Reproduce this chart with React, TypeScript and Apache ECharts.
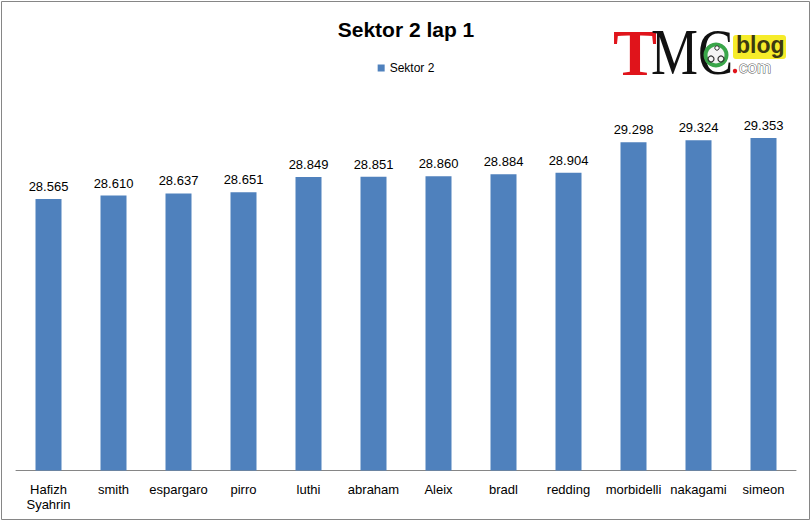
import React, { useEffect, useRef } from "react";
import * as echarts from "echarts";

const categories = ["Hafizh\nSyahrin", "smith", "espargaro", "pirro", "luthi", "abraham", "Aleix", "bradl", "redding", "morbidelli", "nakagami", "simeon"];
const sektor2 = [28.565, 28.61, 28.637, 28.651, 28.849, 28.851, 28.86, 28.884, 28.904, 29.298, 29.324, 29.353];
const seriesName = "Sektor 2";
const titleText = "Sektor 2 lap 1";

const FONT = "'Liberation Sans Narrow', 'Liberation Sans', Arial, sans-serif";

export default function App() {
  const ref = useRef<HTMLDivElement>(null);
  useEffect(() => {
    if (!ref.current) return;
    const chart = echarts.init(ref.current, null, { renderer: "svg" });
    chart.setOption({
      animation: false,
      backgroundColor: "#ffffff",
      title: {
        text: titleText,
        left: "center",
        top: 14,
        textStyle: { fontFamily: FONT, fontSize: 21, fontWeight: "bold", color: "#000" },
      },
      legend: {
        data: [seriesName],
        top: 57,
        left: "center",
        icon: "rect",
        itemWidth: 7,
        itemHeight: 7,
        textStyle: { fontFamily: FONT, fontSize: 12, color: "#000" },
      },
      grid: { left: 16, right: 16, top: 84, bottom: 51.5 },
      xAxis: {
        type: "category",
        data: categories,
        axisLine: { lineStyle: { color: "#868686", width: 1 } },
        axisTick: { show: false },
        axisLabel: {
          interval: 0,
          margin: 11,
          fontFamily: FONT,
          fontSize: 13,
          lineHeight: 15,
          color: "#000",
        },
      },
      yAxis: {
        type: "value",
        min: 25.06,
        max: 30.05,
        show: false,
        splitLine: { show: false },
      },
      series: [
        {
          name: seriesName,
          type: "bar",
          data: sektor2,
          barWidth: "40%",
          itemStyle: { color: "#4F81BD" },
          label: {
            show: true,
            position: "top",
            distance: 6,
            formatter: (p: any) => p.value.toFixed(3),
            fontFamily: FONT,
            fontSize: 13,
            color: "#000",
          },
        },
      ],
      graphic: [
        {
          type: "rect",
          shape: { x: 1.5, y: 1.5, width: 808, height: 518 },
          style: { fill: "none", stroke: "#868686", lineWidth: 1 },
          silent: true,
        },
        {
          type: "group",
          children: [
            {
              type: "text",
              x: 613,
              y: 19,
              style: { text: "T", fontFamily: "'Liberation Serif', serif", fontSize: 66, fontWeight: "bold", fill: "#e0141b" },
            },
            {
              type: "text",
              x: 651,
              y: 19,
              scaleX: 0.8,
              style: { text: "MC", fontFamily: "'Liberation Serif', serif", fontSize: 66, fill: "#111" },
            },
            {
              type: "circle",
              shape: { cx: 716, cy: 55, r: 12.5 },
              style: { fill: "#3aa64a" },
            },
            {
              type: "circle",
              shape: { cx: 716, cy: 55, r: 8.5 },
              style: { fill: "#f4f4f4" },
            },
            {
              type: "circle",
              shape: { cx: 711, cy: 59, r: 3 },
              style: { fill: "none", stroke: "#333", lineWidth: 1.2 },
            },
            {
              type: "circle",
              shape: { cx: 721, cy: 59, r: 3 },
              style: { fill: "none", stroke: "#333", lineWidth: 1.2 },
            },
            {
              type: "circle",
              shape: { cx: 717, cy: 48, r: 2.2 },
              style: { fill: "#fff", stroke: "#333", lineWidth: 1 },
            },
            {
              type: "rect",
              shape: { x: 733, y: 35, width: 53, height: 24, r: 3 },
              style: { fill: "#f6ec2a" },
            },
            {
              type: "text",
              x: 736,
              y: 33,
              style: { text: "blog", fontFamily: "'Liberation Sans', Arial, sans-serif", fontSize: 23, fontWeight: "bold", fill: "#3d3a10" },
            },
            {
              type: "circle",
              shape: { cx: 735, cy: 71, r: 2.2 },
              style: { fill: "#e0141b" },
            },
            {
              type: "text",
              x: 739,
              y: 59,
              style: { text: "com", fontFamily: "'Liberation Sans', Arial, sans-serif", fontSize: 17, fill: "#ffffff", stroke: "#555", lineWidth: 1 },
            },
          ],
        },
      ],
    });
    return () => chart.dispose();
  }, []);
  return <div ref={ref} style={{ position: "fixed", left: 0, top: 0, width: 812, height: 522 }} />;
}
